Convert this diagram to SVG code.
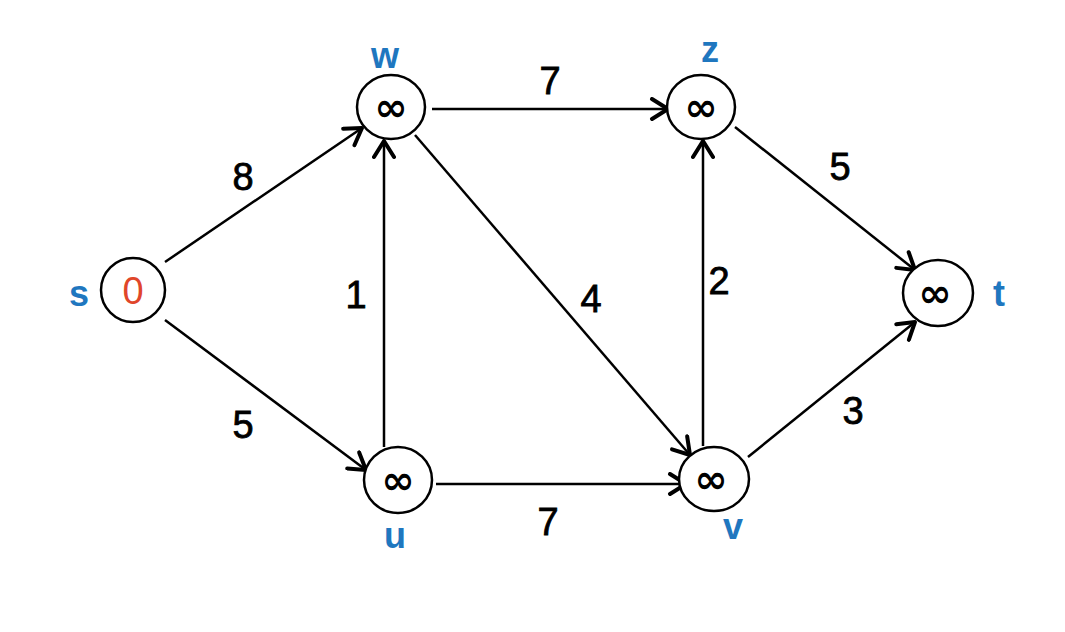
<svg xmlns="http://www.w3.org/2000/svg" width="1065" height="632" viewBox="0 0 1065 632">
<style>
.node{fill:#fff;stroke:#000;stroke-width:2.5}
.inf{font-family:"DejaVu Sans",sans-serif;font-size:40px;font-weight:bold;fill:#000;text-anchor:middle}
.lbl{font-family:"Liberation Sans",sans-serif;font-size:36px;font-weight:bold;fill:#1f77bf;text-anchor:middle}
.w{font-family:"Liberation Sans",sans-serif;font-size:38px;fill:#000;stroke:#000;stroke-width:0.8;text-anchor:middle}
.e{stroke:#000;stroke-width:2.5;fill:none;marker-end:url(#arr)}
</style>
<defs>
<marker id="arr" markerUnits="userSpaceOnUse" markerWidth="24" markerHeight="24" viewBox="0 0 24 24" refX="22" refY="12" orient="auto">
<path d="M6,2 L22,12 L6,22" fill="none" stroke="#000" stroke-width="4" stroke-linecap="round" stroke-linejoin="round"/>
</marker>
</defs>
<rect width="1065" height="632" fill="#fff"/>
<g id="connectors">
<line class="e" x1="165" y1="262" x2="362" y2="128"/>
<line class="e" x1="165" y1="320" x2="366" y2="470"/>
<line class="e" x1="384" y1="447" x2="384" y2="141"/>
<line class="e" x1="432" y1="109" x2="668" y2="109"/>
<line class="e" x1="415" y1="135" x2="690" y2="455"/>
<line class="e" x1="436" y1="484" x2="686" y2="484"/>
<line class="e" x1="703" y1="446" x2="703" y2="141"/>
<line class="e" x1="735" y1="127" x2="915" y2="270"/>
<line class="e" x1="748" y1="457" x2="915" y2="322"/>
<text class="w" x="243" y="190">8</text>
<text class="w" x="243" y="438">5</text>
<text class="w" x="356" y="308">1</text>
<text class="w" x="550" y="94">7</text>
<text class="w" x="591" y="312">4</text>
<text class="w" x="719" y="294">2</text>
<text class="w" x="840" y="180">5</text>
<text class="w" x="853" y="424">3</text>
<text class="w" x="548" y="535">7</text>
</g>
<g id="node-s">
<ellipse class="node" cx="133" cy="290" rx="32" ry="32"/>
<text x="133" y="304" font-family="Liberation Sans, sans-serif" font-size="38" fill="#e0462a" text-anchor="middle">0</text>
<text class="lbl" x="79" y="306">s</text>
</g>
<g id="node-w">
<ellipse class="node" cx="391" cy="107" rx="34" ry="32"/>
<text class="inf" x="391" y="121">∞</text>
<text class="lbl" x="385" y="68">w</text>
</g>
<g id="node-z">
<ellipse class="node" cx="701" cy="107" rx="34" ry="32"/>
<text class="inf" x="701" y="121">∞</text>
<text class="lbl" x="710" y="62">z</text>
</g>
<g id="node-u">
<ellipse class="node" cx="398" cy="480" rx="34" ry="33"/>
<text class="inf" x="398" y="494">∞</text>
<text class="lbl" x="395" y="548">u</text>
</g>
<g id="node-v">
<ellipse class="node" cx="714" cy="479" rx="35" ry="32"/>
<text class="inf" x="711" y="493">∞</text>
<text class="lbl" x="733" y="539">v</text>
</g>
<g id="node-t">
<ellipse class="node" cx="938" cy="293" rx="35" ry="33"/>
<text class="inf" x="935" y="307">∞</text>
<text class="lbl" x="999" y="306">t</text>
</g>
</svg>
